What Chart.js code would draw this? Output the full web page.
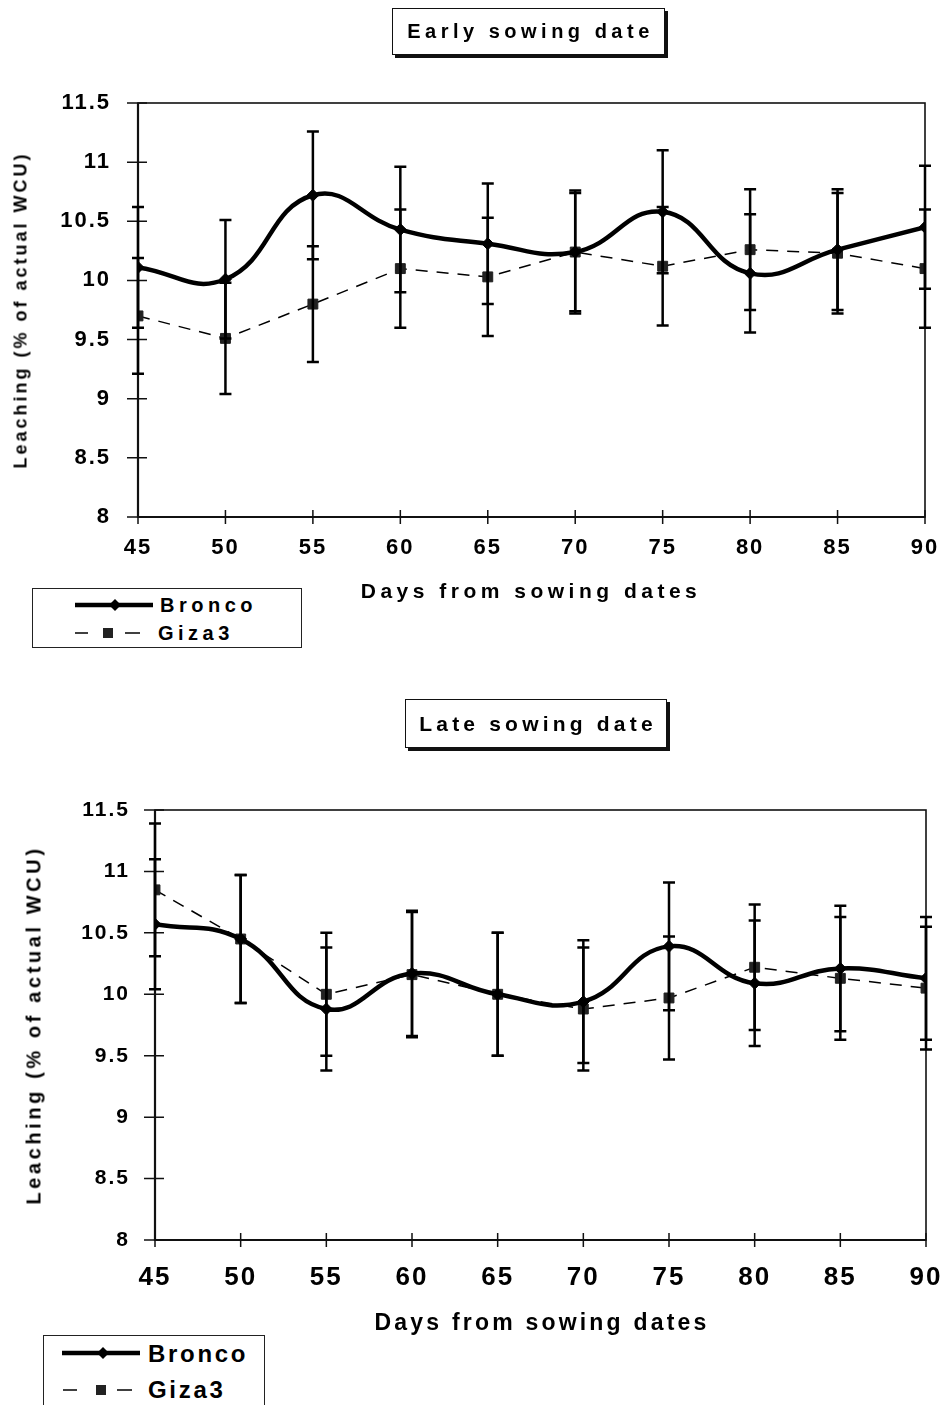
<!DOCTYPE html>
<html>
<head>
<meta charset="utf-8">
<script src="https://cdn.jsdelivr.net/npm/chart.js@4.4.1/dist/chart.umd.min.js"></script>
<style>
  html, body { margin:0; padding:0; background:#fff; }
  body { width:942px; height:1405px; overflow:hidden; position:relative; font-family:"Liberation Sans", Arial, sans-serif; color:#000; }
  canvas { position:absolute; left:0; }
  .tbox { position:absolute; border:1.5px solid #111; box-shadow:3px 3px 0 #111; background:#fff; box-sizing:border-box;
          display:flex; align-items:center; justify-content:center; font-weight:bold; white-space:nowrap; }
  .lbl { position:absolute; font-weight:bold; white-space:nowrap; transform:translate(-50%,-50%); }
  .ytitle { position:absolute; font-weight:bold; white-space:nowrap; transform:translate(-50%,-50%) rotate(-90deg); }
  .legbox { position:absolute; border:1.5px solid #222; box-sizing:border-box; background:#fff; }
  .legtxt { position:absolute; font-weight:bold; white-space:nowrap; transform:translateY(-50%); }
  svg.ov { position:absolute; left:0; top:0; pointer-events:none; }
</style>
</head>
<body>
<canvas id="c1" width="942" height="620" style="top:0px"></canvas>
<canvas id="c2" width="942" height="715" style="top:690px"></canvas>

<div class="tbox" style="left:392px; top:8px; width:273px; height:47px; font-size:20px; letter-spacing:4.5px; padding-left:4px;">Early sowing date</div>
<div class="tbox" style="left:405px; top:699px; width:262px; height:49px; font-size:21px; letter-spacing:4.2px; padding-left:4px;">Late sowing date</div>

<div class="ytitle" style="left:21px; top:310px; font-size:18px; letter-spacing:3px;">Leaching (% of actual WCU)</div>
<div class="ytitle" style="left:34px; top:1025px; font-size:20px; letter-spacing:3.6px;">Leaching (% of actual WCU)</div>

<div class="lbl" style="left:531px; top:591px; font-size:21px; letter-spacing:4.5px;">Days from sowing dates</div>
<div class="lbl" style="left:542px; top:1322px; font-size:23px; letter-spacing:3.2px;">Days from sowing dates</div>

<div class="legbox" style="left:32px; top:588px; width:270px; height:60px;"></div>
<div class="legtxt" style="left:160px; top:605px; font-size:20px; letter-spacing:4.5px;">Bronco</div>
<div class="legtxt" style="left:158px; top:633px; font-size:20px; letter-spacing:4.5px;">Giza3</div>

<div class="legbox" style="left:43px; top:1335px; width:222px; height:110px;"></div>
<div class="legtxt" style="left:148px; top:1354px; font-size:24px; letter-spacing:2.7px;">Bronco</div>
<div class="legtxt" style="left:148px; top:1390px; font-size:24px; letter-spacing:2.7px;">Giza3</div>

<svg class="ov" width="942" height="1405">
  <line x1="75" y1="605" x2="153" y2="605" stroke="#000" stroke-width="4.5"/>
  <polygon points="115,599 121,605 115,611 109,605" fill="#000"/>
  <line x1="75" y1="633" x2="88" y2="633" stroke="#000" stroke-width="1.5"/>
  <line x1="125" y1="633" x2="140" y2="633" stroke="#000" stroke-width="1.5"/>
  <rect x="103" y="628" width="10" height="10" fill="#222"/>

  <line x1="62" y1="1353" x2="140" y2="1353" stroke="#000" stroke-width="4.5"/>
  <polygon points="103,1347 109,1353 103,1359 97,1353" fill="#000"/>
  <line x1="63" y1="1390" x2="77" y2="1390" stroke="#000" stroke-width="1.5"/>
  <line x1="117" y1="1390" x2="132" y2="1390" stroke="#000" stroke-width="1.5"/>
  <rect x="96" y="1385" width="10" height="10" fill="#222"/>
</svg>

<script>
// ---- data ----
const days = [45, 50, 55, 60, 65, 70, 75, 80, 85, 90];
const yTicks = [8, 8.5, 9, 9.5, 10, 10.5, 11, 11.5];

const earlyBronco    = [10.11, 10.01, 10.72, 10.43, 10.31, 10.24, 10.58, 10.06, 10.26, 10.45];
const earlyBroncoErr = [0.51, 0.50, 0.54, 0.53, 0.51, 0.52, 0.52, 0.50, 0.51, 0.52];
const earlyGiza      = [9.70, 9.51, 9.80, 10.10, 10.03, 10.24, 10.12, 10.26, 10.23, 10.10];
const earlyGizaErr   = [0.49, 0.47, 0.49, 0.50, 0.50, 0.50, 0.50, 0.51, 0.51, 0.50];

const lateBronco     = [10.57, 10.45, 9.88, 10.17, 10.00, 9.94, 10.39, 10.09, 10.21, 10.13];
const lateBroncoErr  = [0.53, 0.52, 0.50, 0.51, 0.50, 0.50, 0.52, 0.51, 0.51, 0.50];
const lateGiza       = [10.85, 10.45, 10.00, 10.16, 10.00, 9.88, 9.97, 10.22, 10.13, 10.05];
const lateGizaErr    = [0.54, 0.52, 0.50, 0.51, 0.50, 0.50, 0.50, 0.51, 0.50, 0.50];

const FONT = '"Liberation Sans", Arial, sans-serif';

const pts = (vals) => days.map((d, i) => ({ x: d, y: vals[i] }));

// letter spacing for tick labels
const spacingPlugin = {
  id: 'ls',
  beforeUpdate(chart, a, o) { chart.ctx.letterSpacing = o.v; },
  beforeDraw(chart, a, o) { chart.ctx.letterSpacing = o.v; }
};

// frame + crossing ticks
const framePlugin = {
  id: 'frame',
  beforeDatasetsDraw(chart, a, o) {
    const { ctx, chartArea: ca, scales } = chart;
    ctx.save();
    ctx.strokeStyle = '#111';
    ctx.lineWidth = 1.6;
    ctx.strokeRect(ca.left, ca.top, ca.right - ca.left, ca.bottom - ca.top);
    ctx.lineWidth = 2.2;
    ctx.beginPath();
    ctx.moveTo(ca.left, ca.top); ctx.lineTo(ca.left, ca.bottom); ctx.lineTo(ca.right, ca.bottom);
    ctx.stroke();
    ctx.lineWidth = 1.5;
    ctx.beginPath();
    yTicks.forEach(v => {
      const y = scales.y.getPixelForValue(v);
      ctx.moveTo(ca.left - o.yOut, y); ctx.lineTo(ca.left + o.yIn, y);
    });
    days.forEach(v => {
      const x = scales.x.getPixelForValue(v);
      ctx.moveTo(x, ca.bottom - o.xIn); ctx.lineTo(x, ca.bottom + o.xOut);
    });
    ctx.stroke();
    ctx.restore();
  }
};

// error bars
const errPlugin = {
  id: 'err',
  afterDatasetsDraw(chart) {
    const { ctx, scales } = chart;
    ctx.save();
    ctx.strokeStyle = '#000';
    ctx.lineWidth = 2.5;
    chart.data.datasets.forEach((ds, i) => {
      const meta = chart.getDatasetMeta(i);
      ds.errors.forEach((e, j) => {
        const x = meta.data[j].x;
        const v = ds.data[j].y;
        const yt = scales.y.getPixelForValue(v + e);
        const yb = scales.y.getPixelForValue(v - e);
        ctx.beginPath();
        ctx.moveTo(x, yt); ctx.lineTo(x, yb);
        ctx.moveTo(x - 6, yt); ctx.lineTo(x + 6, yt);
        ctx.moveTo(x - 6, yb); ctx.lineTo(x + 6, yb);
        ctx.stroke();
      });
    });
    ctx.restore();
  }
};

function makeChart(id, bronco, broncoErr, giza, gizaErr, L) {
  return new Chart(document.getElementById(id), {
    type: 'line',
    data: {
      datasets: [
        { label: 'Bronco', data: pts(bronco), errors: broncoErr,
          borderColor: '#000', borderWidth: 4.5, tension: 0.45,
          pointStyle: 'rectRot', pointRadius: 6, pointBackgroundColor: '#000', pointBorderColor: '#000', pointBorderWidth: 1 },
        { label: 'Giza3', data: pts(giza), errors: gizaErr,
          borderColor: '#000', borderWidth: 1.5, borderDash: [12, 9], tension: 0,
          pointStyle: 'rect', pointRadius: 7, pointBackgroundColor: '#222', pointBorderColor: '#222', pointBorderWidth: 1 }
      ]
    },
    options: {
      responsive: false, animation: false, devicePixelRatio: 1,
      layout: { padding: { top: L.top, right: L.right, left: 0, bottom: 0 } },
      plugins: { legend: { display: false }, tooltip: { enabled: false }, title: { display: false },
                 ls: { v: '2px' },
                 frame: { yOut: L.yOut, yIn: L.yIn, xOut: 7, xIn: 7 } },
      scales: {
        x: { type: 'linear', min: 45, max: 90,
             afterBuildTicks: (s) => { s.ticks = days.map(v => ({ value: v })); },
             ticks: { color: '#000', padding: L.xPad, maxRotation: 0, autoSkip: false,
                      callback: (v) => String(v),
                      font: { family: FONT, size: L.xFont, weight: 'bold' } },
             grid: { display: false, drawTicks: false }, border: { display: false },
             afterFit: (s) => { s.height = L.xH; s.paddingLeft = 0; s.paddingRight = 0; } },
        y: { type: 'linear', min: 8, max: 11.5,
             afterBuildTicks: (s) => { s.ticks = yTicks.map(v => ({ value: v })); },
             ticks: { color: '#000', padding: L.yPad,
                      callback: (v) => String(v),
                      font: { family: FONT, size: L.yFont, weight: 'bold' } },
             grid: { display: false, drawTicks: false }, border: { display: false },
             afterFit: (s) => { s.width = L.yW; s.paddingTop = 0; s.paddingBottom = 0; } }
      }
    },
    plugins: [spacingPlugin, framePlugin, errPlugin]
  });
}

makeChart('c1', earlyBronco, earlyBroncoErr, earlyGiza, earlyGizaErr,
  { top: 103, right: 17, xH: 103, yW: 138, xPad: 18, yPad: 27, xFont: 22, yFont: 22, yOut: 11, yIn: 9 });
makeChart('c2', lateBronco, lateBroncoErr, lateGiza, lateGizaErr,
  { top: 120, right: 16, xH: 165, yW: 155, xPad: 22, yPad: 25, xFont: 26, yFont: 21, yOut: 11, yIn: 9 });
</script>
</body>
</html>
